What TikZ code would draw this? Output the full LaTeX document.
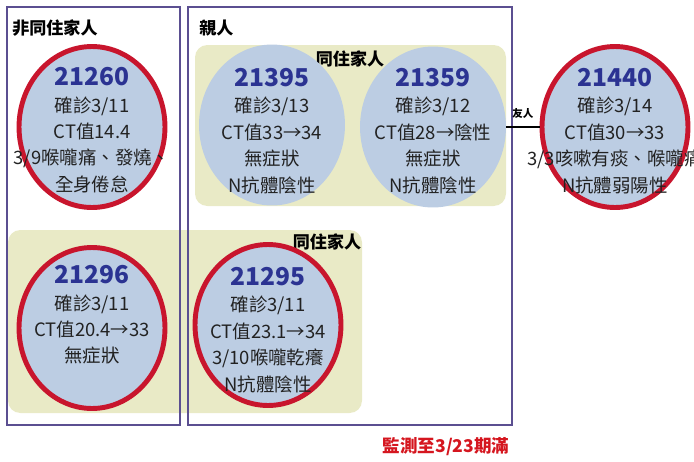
\documentclass[tikz,border=0pt]{standalone}
\usepackage{fontspec}
\setmainfont{Noto Sans CJK TC}
\usepackage{xcolor}
\usepackage{tikz}
\usetikzlibrary{positioning,shapes.geometric}
\definecolor{FrameViolet}{HTML}{5B4F91}
\definecolor{HouseYellow}{HTML}{E9EAC6}
\definecolor{CaseBlue}{HTML}{BCCDE3}
\definecolor{RingRed}{HTML}{C8152D}
\definecolor{CaseNavy}{HTML}{2B3392}
\definecolor{InkGray}{HTML}{222222}
\definecolor{AlertRed}{HTML}{D5161F}

\begin{document}
\begin{tikzpicture}[x=0.02cm, y=-0.02cm,
        group/.style={draw=FrameViolet, line width=1.3pt},
        house/.style={fill=HouseYellow, rounded corners=7pt},
        case/.style={ellipse, fill=CaseBlue, inner sep=0pt, minimum width=2.92cm, minimum height=3.22cm},
        ring/.style={case, draw=RingRed, line width=2.8pt},
        info/.style={align=center, text=InkGray, font=\fontsize{10.5}{15}\selectfont},
        title/.style={font=\fontsize{9.7}{11}\selectfont\bfseries, text=black, inner sep=0pt},
        tie/.style={draw=black, line width=1.2pt}
    ]
        \useasboundingbox (0,0) rectangle (694,461);
        \newcommand{\casenum}[1]{{\fontsize{14}{15}\selectfont\bfseries\color{CaseNavy}#1}}

        % household backgrounds
        \fill [house] (195,45) rectangle (506,206);
        \fill [house] (8,230) rectangle (362,413);

        % groups
        \draw [group] (7,7) rectangle (180,425);
        \draw [group] (188,7) rectangle (512,425);
        \node [title, anchor=west] (t_other) at (12,28) {非同住家人};
        \node [title, anchor=west] (t_kin) at (199,28) {親人};
        \node [title] (t_house1) at (350,59) {同住家人};
        \node [title] (t_house2) at (327,242) {同住家人};

        % cases
        \node [ring] (c_21260) at (92,127) {};
        \node [case] (c_21395) at (272,125) {};
        \node [case] (c_21359) at (433,127) {};
        \node [ring] (c_21440) at (615,127) {};
        \node [ring] (c_21296) at (92,328) {};
        \node [ring] (c_21295) at (268,325) {};

        \node [info] at (92,130) {\casenum{21260}\\確診3/11\\CT值14.4\\3/9喉嚨痛、發燒、\\全身倦怠};
        \node [info] at (272,131) {\casenum{21395}\\確診3/13\\CT值33→34\\無症狀\\N抗體陰性};
        \node [info] at (433,131) {\casenum{21359}\\確診3/12\\CT值28→陰性\\無症狀\\N抗體陰性};
        \node [info] at (615,131) {\casenum{21440}\\確診3/14\\CT值30→33\\3/3咳嗽有痰、喉嚨痛\\N抗體弱陽性};
        \node [info] at (92,315) {\casenum{21296}\\確診3/11\\CT值20.4→33\\無症狀};
        \node [info] at (268,330) {\casenum{21295}\\確診3/11\\CT值23.1→34\\3/10喉嚨乾癢\\N抗體陰性};

        % friend link
        \draw [tie] (c_21359.east) -- (c_21440.west)
            node [midway, above=1pt, font=\fontsize{6}{7}\selectfont\bfseries] (t_friend) {友人};

        \node [title, text=AlertRed, font=\fontsize{10}{12}\selectfont\bfseries] (t_watch) at (446,447) {監測至3/23期滿};
    \end{tikzpicture}
\end{document}
